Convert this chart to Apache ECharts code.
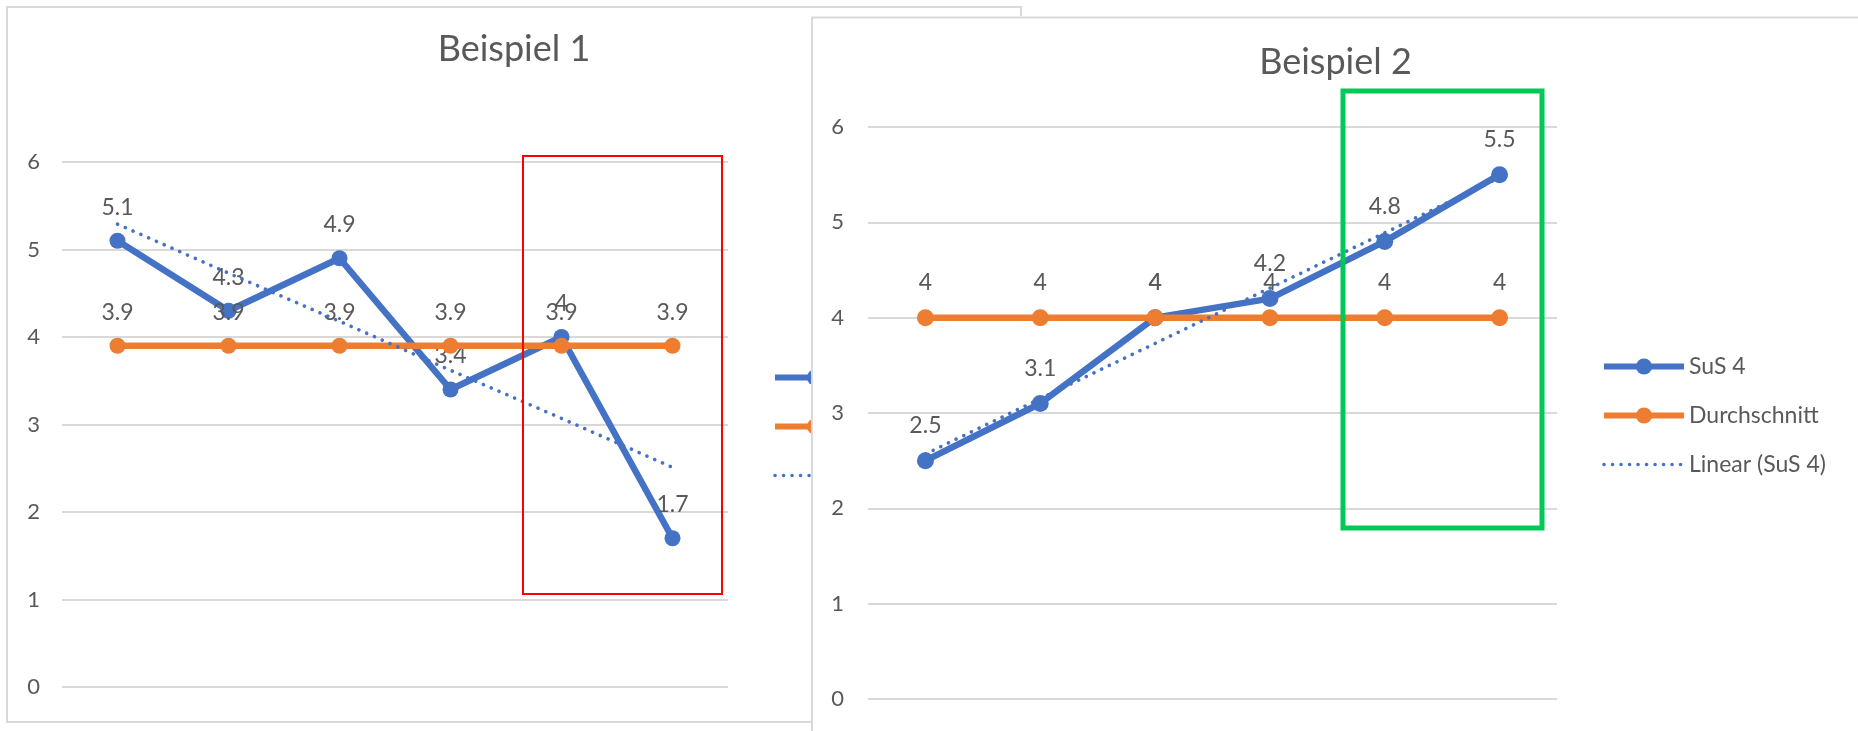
<!DOCTYPE html>
<html><head><meta charset="utf-8">
<script src="https://cdn.jsdelivr.net/npm/echarts@6/dist/echarts.min.js"></script>
<style>
html,body{margin:0;padding:0;width:1858px;height:731px;overflow:hidden;background:#fff;}
#c1{position:absolute;left:0;top:0;width:1858px;height:731px;}
#c2{position:absolute;left:811px;top:16px;width:1047px;height:715px;background:#fff;}
</style></head><body>
<div id="c1"></div><div id="c2"></div>
<script>
// ---- data ----
const categories = ['1', '2', '3', '4', '5', '6'];
const yMin = 0, yMax = 6, yStep = 1;

const title1 = 'Beispiel 1';
const names1 = ['SuS 1', 'Durchschnitt', 'Linear (SuS 1)'];
const sus1 = [5.1, 4.3, 4.9, 3.4, 4, 1.7];
const avg1 = [3.9, 3.9, 3.9, 3.9, 3.9, 3.9];
const trend1 = [5.29, 4.73, 4.18, 3.62, 3.07, 2.51];

const title2 = 'Beispiel 2';
const names2 = ['SuS 4', 'Durchschnitt', 'Linear (SuS 4)'];
const sus2 = [2.5, 3.1, 4, 4.2, 4.8, 5.5];
const avg2 = [4, 4, 4, 4, 4, 4];
const trend2 = [2.57, 3.15, 3.73, 4.31, 4.89, 5.47];

// ---- styling ----
const BLUE = '#4472C4', ORANGE = '#ED7D31', TXT = '#595959', GRID = '#D9D9D9';
const FONT = 'Lato';

function makeOption(cfg) {
  const lbl = {show: true, position: 'top', distance: cfg.labelDist, color: TXT, fontSize: 23, fontFamily: FONT};
  return {
    animation: false,
    title: {text: cfg.title, left: cfg.titleX, top: cfg.titleY, textAlign: 'center', padding: 0,
      textStyle: {color: TXT, fontSize: 36, fontWeight: 'normal', fontFamily: FONT}},
    legend: {orient: 'vertical', left: cfg.legendX, top: cfg.legendY, padding: 0,
      itemWidth: 80, itemHeight: 20, itemGap: 26, selectedMode: false,
      textStyle: {color: TXT, fontSize: 23, fontFamily: FONT},
      data: [
        {name: cfg.names[0], lineStyle: {width: 6}},
        {name: cfg.names[1], lineStyle: {width: 6}},
        {name: cfg.names[2], lineStyle: {width: 3.5}}
      ]},
    grid: cfg.grid,
    xAxis: {type: 'category', data: categories, boundaryGap: true,
      axisLine: {show: false}, axisTick: {show: false}, axisLabel: {show: false}},
    yAxis: {type: 'value', min: yMin, max: yMax, interval: yStep,
      axisLine: {show: false}, axisTick: {show: false},
      axisLabel: {color: TXT, fontSize: 22, fontFamily: FONT, margin: cfg.yMargin},
      splitLine: {lineStyle: {color: GRID, width: 2}}},
    series: [
      {name: cfg.names[0], type: 'line', data: cfg.sus, symbol: 'circle', symbolSize: cfg.sym,
        itemStyle: {color: BLUE}, lineStyle: {color: BLUE, width: 6.5},
        label: lbl, emphasis: {disabled: true}, z: 2},
      {name: cfg.names[1], type: 'line', data: cfg.avg, symbol: 'circle', symbolSize: cfg.sym,
        itemStyle: {color: ORANGE}, lineStyle: {color: ORANGE, width: 6.5},
        label: lbl, emphasis: {disabled: true}, z: 3},
      {name: cfg.names[2], type: 'line', data: cfg.trend, symbol: 'circle', showSymbol: false,
        itemStyle: {color: 'rgba(0,0,0,0)'},
        lineStyle: {color: BLUE, width: 3.6, type: [0.1, 8.4], cap: 'round'},
        emphasis: {disabled: true}, z: 4}
    ],
    graphic: cfg.graphic
  };
}

const c1 = echarts.init(document.getElementById('c1'));
c1.setOption(makeOption({
  title: title1, titleX: 514, titleY: 31, names: names1,
  legendX: 772, legendY: 366, labelDist: 14, sym: 16, yMargin: 22,
  grid: {left: 62, top: 162, width: 666, height: 525},
  sus: sus1, avg: avg1, trend: trend1,
  graphic: [
    {type: 'rect', shape: {x: 7, y: 7, width: 1014, height: 715}, style: {fill: 'none', stroke: GRID, lineWidth: 2}, z: -1},
    {type: 'rect', shape: {x: 523, y: 156, width: 199, height: 438}, style: {fill: 'none', stroke: '#FF0000', lineWidth: 2}, z: 10}
  ]
}));

const c2 = echarts.init(document.getElementById('c2'));
c2.setOption(makeOption({
  title: title2, titleX: 524.5, titleY: 28, names: names2,
  legendX: 790, legendY: 339, labelDist: 15, sym: 17, yMargin: 24,
  grid: {left: 57, top: 111, width: 689, height: 572},
  sus: sus2, avg: avg2, trend: trend2,
  graphic: [
    {type: 'polyline', shape: {points: [[1, 715], [1, 1.5], [1047, 1.5]]}, style: {fill: 'none', stroke: GRID, lineWidth: 2}, z: -1},
    {type: 'rect', shape: {x: 532, y: 75, width: 199, height: 437}, style: {fill: 'none', stroke: '#00C95A', lineWidth: 5}, z: 10}
  ]
}));
</script>
</body></html>
